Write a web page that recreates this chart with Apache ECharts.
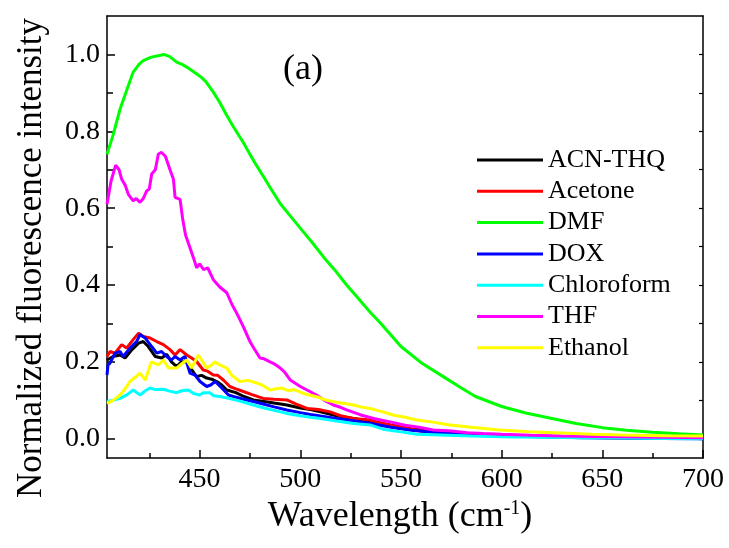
<!DOCTYPE html>
<html><head><meta charset="utf-8">
<script src="https://cdn.jsdelivr.net/npm/echarts@6/dist/echarts.min.js"></script>
<style>html,body{margin:0;padding:0;background:#fff}#c{width:729px;height:548px}</style>
</head><body><div id="c"></div>
<script>
const seriesNames = ['ACN-THQ','Acetone','DMF','DOX','Chloroform','THF','Ethanol'];
const seriesColors = ['#000000','#ff0000','#00ff00','#0000ff','#00ffff','#ff00ff','#ffff00'];
const xTickLabels = [450,500,550,600,650,700];
const xMinorTicks = [425,475,525,575,625,675];
const yTickLabels = [0,0.2,0.4,0.6,0.8,1.0];
const yMinorTicks = [0.1,0.3,0.5,0.7,0.9];
const xTitle = 'Wavelength (cm{sup|-1})';
const yTitle = 'Normalized fluorescence intensity';
const panelLabel = '(a)';

const acnThq = [[404,0.205],[407,0.214],[410.5,0.218],[413,0.21],[416.4,0.232],[419.7,0.249],[422,0.253],[424.5,0.24],[428,0.214],[431.1,0.21],[433.6,0.22],[436,0.2],[438.6,0.188],[441,0.2],[443.6,0.201],[446,0.18],[448.5,0.162],[451,0.165],[453.5,0.158],[456,0.155],[458.5,0.149],[461,0.14],[463.5,0.127],[468,0.12],[472,0.11],[476.7,0.101],[482,0.097],[487,0.093],[493.3,0.088],[500,0.08],[505,0.076],[510,0.07],[518,0.06],[526.4,0.053],[535,0.045],[545,0.035],[555,0.026],[570,0.018],[585,0.012],[600,0.008],[620,0.006],[640,0.004],[660,0.003],[680,0.002],[700,0.001]];
const acetone = [[404,0.214],[405.5,0.227],[408,0.223],[411.3,0.245],[413.7,0.236],[417,0.258],[419.7,0.275],[422,0.266],[425.4,0.262],[428.7,0.253],[432,0.245],[435.3,0.232],[437.8,0.218],[440.3,0.232],[443.6,0.218],[446,0.21],[448.5,0.201],[451.8,0.179],[454,0.176],[456.8,0.166],[459,0.165],[461.8,0.153],[465,0.136],[468,0.13],[471.7,0.123],[476,0.115],[481.6,0.105],[487,0.103],[493.3,0.101],[498,0.09],[503.3,0.079],[509,0.076],[514.8,0.07],[520,0.06],[526.4,0.053],[534.6,0.049],[538,0.044],[545,0.035],[552,0.028],[560,0.02],[575,0.015],[590,0.01],[610,0.007],[630,0.005],[650,0.003],[675,0.002],[700,0.001]];
const dmf = [[404,0.74],[407,0.79],[410.5,0.858],[414,0.91],[417,0.954],[420,0.975],[422,0.984],[426,0.993],[430,0.997],[432,1.0],[435,0.995],[438.6,0.98],[441,0.975],[443.6,0.967],[447,0.955],[450,0.944],[453,0.93],[456.8,0.902],[460,0.875],[463.5,0.841],[467,0.81],[471.7,0.771],[475,0.74],[478.4,0.71],[482,0.68],[485,0.654],[490,0.612],[495,0.58],[500,0.548],[506,0.51],[512,0.47],[517,0.44],[523,0.40],[528,0.37],[534.6,0.33],[540,0.30],[545,0.27],[550,0.24],[560,0.198],[570,0.165],[580,0.132],[587,0.11],[600,0.084],[612,0.067],[625,0.053],[637,0.04],[650,0.029],[662,0.022],[675,0.017],[688,0.013],[700,0.01]];
const dox = [[404,0.166],[404.5,0.192],[405.5,0.197],[408,0.223],[410.5,0.227],[412,0.214],[415.4,0.236],[418.7,0.253],[420.4,0.271],[423,0.262],[426.2,0.24],[428.7,0.223],[431.1,0.227],[433.6,0.214],[436,0.205],[437.8,0.214],[440.3,0.205],[442.7,0.214],[445.2,0.171],[447.7,0.166],[450.2,0.149],[453.5,0.136],[455.5,0.14],[457.7,0.149],[461,0.132],[464.3,0.114],[466.7,0.11],[471,0.104],[476.7,0.097],[482,0.09],[487,0.083],[493.3,0.075],[500,0.068],[505,0.063],[510,0.059],[518,0.053],[526.4,0.047],[535,0.04],[545,0.03],[555,0.022],[570,0.015],[585,0.01],[600,0.007],[620,0.005],[640,0.003],[660,0.002],[680,0.001],[700,0.0]];
const chloroform = [[404,0.097],[407,0.1],[410.5,0.105],[414,0.115],[417,0.127],[420.4,0.114],[423,0.125],[425.4,0.132],[428,0.128],[432,0.129],[435,0.124],[438.6,0.12],[441,0.125],[444.4,0.127],[447,0.118],[450,0.114],[452,0.12],[455,0.12],[457,0.112],[460,0.11],[465,0.105],[470,0.098],[476.7,0.088],[482,0.08],[487,0.074],[493.3,0.066],[500,0.06],[505,0.056],[510,0.053],[518,0.046],[526.4,0.04],[534.6,0.036],[541,0.025],[550,0.018],[558,0.012],[570,0.01],[585,0.007],[600,0.005],[620,0.004],[640,0.003],[660,0.002],[680,0.001],[700,0.0]];
const thf = [[404,0.61],[406,0.67],[408.3,0.712],[410,0.70],[411.3,0.675],[413,0.66],[414.6,0.636],[417,0.619],[418.5,0.625],[420.4,0.615],[422,0.625],[423.7,0.645],[425,0.65],[426.2,0.689],[428,0.70],[429.5,0.741],[431.1,0.745],[433,0.735],[435.3,0.70],[437,0.675],[437.8,0.628],[440.3,0.623],[441.6,0.571],[443,0.53],[445,0.50],[447,0.47],[448.5,0.445],[450,0.455],[452,0.44],[454,0.445],[456.8,0.414],[460,0.395],[463.5,0.38],[466,0.35],[468.4,0.327],[471.7,0.292],[475,0.253],[477,0.235],[480,0.21],[482,0.208],[485,0.2],[487,0.195],[490,0.184],[492,0.175],[495,0.153],[500,0.136],[504,0.125],[508,0.114],[512,0.1],[516.4,0.088],[520,0.082],[523,0.075],[530,0.062],[537,0.052],[544.6,0.044],[552,0.035],[559,0.03],[566,0.023],[575,0.02],[583,0.016],[591,0.014],[600,0.012],[615,0.009],[630,0.007],[645,0.006],[660,0.005],[680,0.004],[700,0.003]];
const ethanol = [[404,0.092],[407,0.1],[410.5,0.114],[413,0.13],[415.4,0.149],[418,0.16],[420.4,0.171],[423,0.153],[426,0.2],[429.5,0.192],[432,0.205],[434.5,0.184],[438.6,0.184],[441,0.195],[443.6,0.205],[446,0.184],[449.4,0.218],[451,0.205],[453.5,0.184],[455.5,0.19],[457.7,0.2],[460,0.192],[463.5,0.184],[466,0.165],[470,0.149],[474,0.152],[478.4,0.145],[481,0.14],[485,0.127],[488,0.13],[490.8,0.132],[494,0.125],[497,0.128],[501.5,0.118],[506,0.112],[509,0.108],[513,0.1],[518,0.095],[522,0.092],[526.4,0.088],[530,0.083],[534.6,0.079],[541,0.07],[546,0.062],[552,0.056],[557.8,0.049],[565,0.044],[574.4,0.036],[585,0.03],[599,0.023],[614,0.018],[630,0.015],[645,0.012],[660,0.01],[680,0.008],[700,0.007]];

const allData = [acnThq, acetone, dmf, dox, chloroform, thf, ethanol];
const FONT = '"Liberation Serif","Times New Roman",serif';
const X_MIN = 404, X_MAX = 700, Y_MIN = -0.05, Y_MAX = 1.1;
const axisLineStyle = {show:true, onZero:false, lineStyle:{color:'#000', width:1.5}};
const noLine = {show:false, onZero:false};

const chart = echarts.init(document.getElementById('c'), null, {renderer:'canvas'});
chart.setOption({
  animation:false,
  backgroundColor:'#fff',
  grid:{left:107, right:26, top:16, bottom:90, containLabel:false, outerBoundsMode:'none'},
  legend:{
    show:true, orient:'vertical', left:477, top:147, padding:0,
    data:seriesNames, itemWidth:66, itemHeight:14, itemGap:5.3,
    icon:'path://M0,5.5 L66,5.5 L66,8.5 L0,8.5 Z',
    textStyle:{fontFamily:FONT, fontSize:26, color:'#000', lineHeight:26}
  },
  xAxis:[
    {type:'value', position:'bottom', min:X_MIN, max:X_MAX, splitLine:{show:false},
     axisLine:axisLineStyle,
     axisTick:{show:true, inside:true, length:8, lineStyle:{color:'#000', width:1.5}, customValues:xTickLabels},
     axisLabel:{show:true, customValues:xTickLabels, margin:8, fontFamily:FONT, fontSize:28, color:'#000'}},
    {type:'value', position:'bottom', min:X_MIN, max:X_MAX, splitLine:{show:false},
     axisLine:noLine,
     axisTick:{show:true, inside:true, length:5, lineStyle:{color:'#000', width:1.5}, customValues:xMinorTicks},
     axisLabel:{show:false}},
    {type:'value', position:'top', min:X_MIN, max:X_MAX, splitLine:{show:false},
     axisLine:axisLineStyle, axisTick:{show:false}, axisLabel:{show:false}}
  ],
  yAxis:[
    {type:'value', position:'left', min:Y_MIN, max:Y_MAX, splitLine:{show:false},
     axisLine:axisLineStyle,
     axisTick:{show:true, inside:true, length:8, lineStyle:{color:'#000', width:1.5}, customValues:yTickLabels},
     axisLabel:{show:true, customValues:yTickLabels, margin:7, fontFamily:FONT, fontSize:28, color:'#000',
       formatter:v=>Number(v).toFixed(1)}},
    {type:'value', position:'left', min:Y_MIN, max:Y_MAX, splitLine:{show:false},
     axisLine:noLine,
     axisTick:{show:true, inside:true, length:6, lineStyle:{color:'#000', width:1.5}, customValues:yMinorTicks},
     axisLabel:{show:false}},
    {type:'value', position:'right', min:Y_MIN, max:Y_MAX, splitLine:{show:false},
     axisLine:axisLineStyle,
     axisTick:{show:true, inside:true, length:4, lineStyle:{color:'#000', width:1.2}, customValues:yTickLabels.concat(yMinorTicks)},
     axisLabel:{show:false}}
  ],
  graphic:[
    {type:'text', x:303, y:70, style:{text:panelLabel, fontFamily:FONT, fontSize:36, fill:'#000', align:'center', verticalAlign:'middle'}},
    {type:'text', x:32, y:258, rotation:Math.PI/2,
     style:{text:yTitle, fontFamily:FONT, fontSize:35, fill:'#000', align:'center', verticalAlign:'middle'}},
    {type:'text', x:400, y:517,
     style:{text:xTitle, fontFamily:FONT, fontSize:36, fill:'#000', align:'center', verticalAlign:'middle',
       rich:{sup:{fontFamily:FONT, fontSize:20, fill:'#000', verticalAlign:'top', padding:[0,0,14,0]}}}}
  ],
  series: seriesNames.map((n,i)=>({
    name:n, type:'line', data:allData[i], xAxisIndex:0, yAxisIndex:0,
    symbol:'none', showSymbol:false, smooth:false,
    lineStyle:{color:seriesColors[i], width:3},
    itemStyle:{color:seriesColors[i]}
  }))
});
</script></body></html>
